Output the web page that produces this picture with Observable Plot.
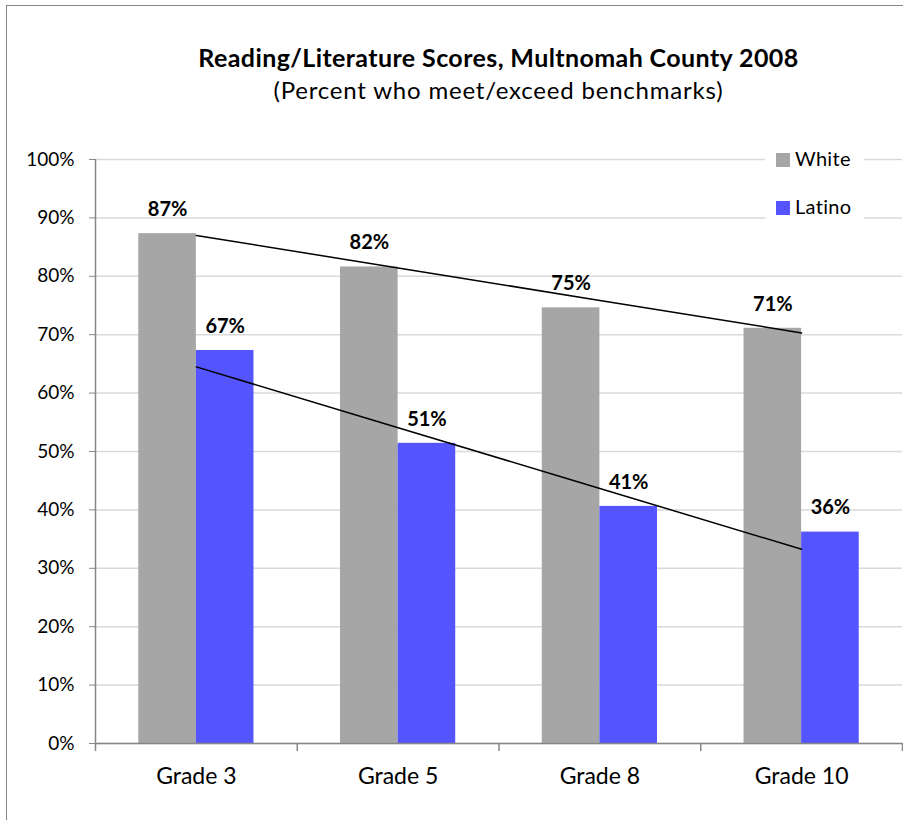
<!DOCTYPE html>
<html><head><meta charset="utf-8">
<script src="https://cdn.jsdelivr.net/npm/d3@7"></script>
<script src="https://cdn.jsdelivr.net/npm/@observablehq/plot@0.6"></script>
<style>
body{margin:0;background:#fff;}
#wrap{position:relative;width:903px;height:820px;overflow:hidden;font-family:Lato,"Open Sans",sans-serif;color:#000;}
#border{position:absolute;left:6px;top:5px;right:-10px;bottom:-10px;border-left:1.5px solid #868686;border-top:1.5px solid #868686;}
#title{position:absolute;left:95px;width:807px;top:42px;text-align:center;font-weight:bold;font-size:25px;letter-spacing:0.4px;line-height:30px;}
#subtitle{position:absolute;left:95px;width:807px;top:75px;text-align:center;font-size:24px;letter-spacing:0.8px;line-height:30px;}
#chart{position:absolute;left:0;top:0;}
#legend{position:absolute;left:765px;top:140px;width:99px;height:85px;background:#fff;}
.item{position:absolute;left:11px;height:24px;font-size:20px;line-height:24px;white-space:nowrap;letter-spacing:0.3px;}
.sw{display:inline-block;width:14px;height:14px;vertical-align:-1px;margin-right:5px;}
</style></head>
<body>
<div id="wrap">
  <div id="border"></div>
  <div id="chart"></div>
  <div id="title">Reading/Literature Scores, Multnomah County 2008</div>
  <div id="subtitle">(Percent who meet/exceed benchmarks)</div>
  <div id="legend"></div>
</div>
<script>
const grades = ["Grade 3", "Grade 5", "Grade 8", "Grade 10"];
const series = ["White", "Latino"];
const whiteValues = [87.3, 81.6, 74.6, 71.1];
const latinoValues = [67.3, 51.4, 40.6, 36.2];
const yTicks = [0, 10, 20, 30, 40, 50, 60, 70, 80, 90, 100];
const colors = {White: "#a6a6a6", Latino: "#5555ff"};

const W = 903, H = 820, mL = 95, mR = 1, mT = 159, mB = 77;
const step = (W - mL - mR) / grades.length;
const padInner = 0.429;
const half = step * (1 - padInner) / 2;

const white = grades.map((g, i) => ({grade: g, value: whiteValues[i], series: "White"}));
const latino = grades.map((g, i) => ({grade: g, value: latinoValues[i], series: "Latino"}));

function trend(vals) {
  const n = vals.length;
  const mx = (n - 1) / 2, my = d3.mean(vals);
  let num = 0, den = 0;
  vals.forEach((v, i) => { num += (i - mx) * (v - my); den += (i - mx) ** 2; });
  const slope = num / den, b = my - slope * mx;
  return grades.map((g, i) => ({grade: g, value: b + slope * i}));
}

const chart = Plot.plot({
  width: W, height: H,
  marginLeft: mL, marginRight: mR, marginTop: mT, marginBottom: mB,
  style: {fontFamily: "Lato, 'Open Sans', sans-serif", background: "transparent", color: "#000"},
  x: {domain: grades, paddingInner: padInner, paddingOuter: padInner / 2, round: false, label: null},
  y: {domain: [0, 100], label: null},
  marks: [
    Plot.ruleY(yTicks, {stroke: "#d9d9d9", strokeWidth: 1.5}),
    Plot.barY(white, {x: "grade", y: "value", fill: colors.White, insetRight: half}),
    Plot.barY(latino, {x: "grade", y: "value", fill: colors.Latino, insetLeft: half}),
    Plot.ruleY([0], {stroke: "#868686", strokeWidth: 1.5}),
    Plot.ruleX([grades[0]], {dx: -step / 2, y1: 0, y2: 100, stroke: "#868686", strokeWidth: 1.5}),
    Plot.ruleX(grades, {dx: -step / 2, y1: 0, y2: 0, insetBottom: -8, stroke: "#868686", strokeWidth: 1.5}),
    Plot.ruleX([grades[grades.length - 1]], {dx: step / 2, y1: 0, y2: 0, insetBottom: -8, stroke: "#868686", strokeWidth: 1.5}),
    Plot.axisY({ticks: yTicks, tickFormat: d => d + "%", tickSize: 6, tickPadding: 15, stroke: "#868686", fill: "#000", fontSize: 19, label: null}),
    Plot.axisX({tickSize: 0, tickPadding: 24, fontSize: 23, fill: "#000", label: null}),
    Plot.line(trend(whiteValues), {x: "grade", y: "value", stroke: "#000", strokeWidth: 1.5}),
    Plot.line(trend(latinoValues), {x: "grade", y: "value", stroke: "#000", strokeWidth: 1.5}),
    Plot.text(white, {x: "grade", y: "value", text: d => Math.round(d.value) + "%", dx: -half / 2, dy: -24, fontWeight: "bold", fontSize: 20, fill: "#000"}),
    Plot.text(latino, {x: "grade", y: "value", text: d => Math.round(d.value) + "%", dx: half / 2, dy: -24, fontWeight: "bold", fontSize: 20, fill: "#000"})
  ]
});
document.getElementById("chart").appendChild(chart);

const legend = document.getElementById("legend");
series.forEach((s, i) => {
  const el = document.createElement("div");
  el.className = "item";
  el.style.top = (6 + i * 48) + "px";
  el.innerHTML = `<span class="sw" style="background:${colors[s]}"></span>${s}`;
  legend.appendChild(el);
});
</script>
</body></html>
